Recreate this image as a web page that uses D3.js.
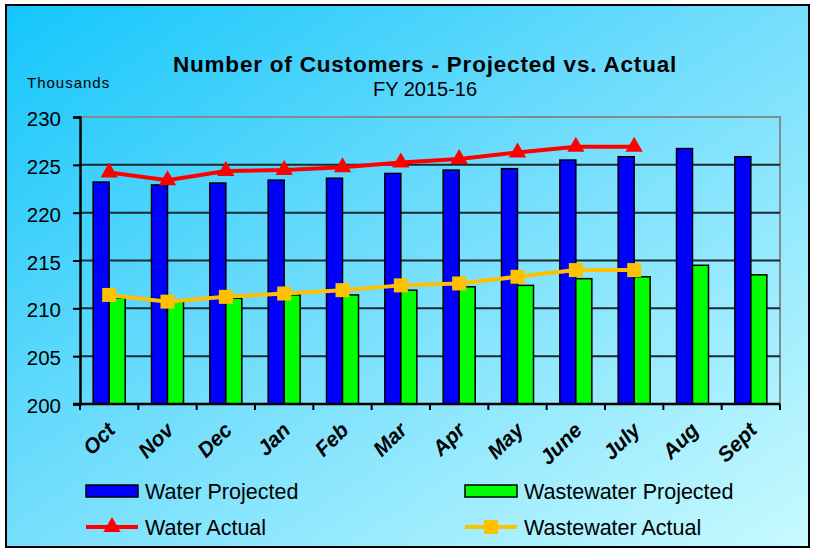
<!DOCTYPE html>
<html>
<head>
<meta charset="utf-8">
<script src="https://cdn.jsdelivr.net/npm/d3@7"></script>
<style>
  body { margin: 0; background: #fff; }
  svg text { font-family: "Liberation Sans", Arial, sans-serif; }
</style>
</head>
<body>
<div id="chart"></div>
<script>
// data
const months = ["Oct", "Nov", "Dec", "Jan", "Feb", "Mar", "Apr", "May", "June", "July", "Aug", "Sept"];
const waterProjected = [223.2, 222.9, 223.1, 223.4, 223.6, 224.1, 224.45, 224.6, 225.5, 225.85, 226.7, 225.85];
const wastewaterProjected = [211.1, 210.7, 211.05, 211.4, 211.4, 211.9, 212.25, 212.4, 213.1, 213.3, 214.5, 213.5];
const waterActual = [224.2, 223.4, 224.35, 224.45, 224.75, 225.25, 225.6, 226.3, 226.9, 226.9];
const wastewaterActual = [211.4, 210.7, 211.2, 211.55, 211.9, 212.4, 212.6, 213.3, 214.0, 214.0];
const yTicks = [200, 205, 210, 215, 220, 225, 230];

const width = 815, height = 551;
const margin = {top: 117, right: 35, bottom: 147, left: 80};

const svg = d3.select("#chart").append("svg")
    .attr("width", width)
    .attr("height", height);

// background gradient
let defs = svg.append("defs");
let grad = defs.append("linearGradient")
    .attr("id", "bg")
    .attr("x1", "0%").attr("y1", "0%")
    .attr("x2", "100%").attr("y2", "100%");
grad.append("stop").attr("offset", "0%").attr("stop-color", "#14c6fb");
grad.append("stop").attr("offset", "45%").attr("stop-color", "#6ddcfc");
grad.append("stop").attr("offset", "100%").attr("stop-color", "#c8faff");

svg.append("rect")
    .attr("x", 6).attr("y", 5)
    .attr("width", 803).attr("height", 542)
    .attr("fill", "url(#bg)")
    .attr("stroke", "#000")
    .attr("stroke-width", 2);

// scales
const x = d3.scaleBand()
    .domain(months)
    .range([margin.left, width - margin.right]);

const y = d3.scaleLinear()
    .domain([200, 230])
    .range([404, margin.top]);

const barW = 16;

// plot border (top and right are grey)
svg.append("path")
    .attr("d", "M" + margin.left + "," + y(230) + "H" + (width - margin.right) + "V" + y(200))
    .attr("fill", "none")
    .attr("stroke", "#7f8c90")
    .attr("stroke-width", 2);

// gridlines
svg.append("g")
    .selectAll("line")
    .data(yTicks.filter(d => d > 200 && d < 230))
    .enter()
    .append("line")
    .attr("x1", margin.left)
    .attr("x2", width - margin.right)
    .attr("y1", d => y(d))
    .attr("y2", d => y(d))
    .attr("stroke", "#1a2a2e")
    .attr("stroke-width", 2);

// bars
svg.append("g")
    .selectAll("rect")
    .data(waterProjected)
    .enter()
    .append("rect")
    .attr("x", (d, i) => x(months[i]) + x.bandwidth() / 2 - barW)
    .attr("y", d => y(d))
    .attr("width", barW)
    .attr("height", d => y(200) - y(d))
    .attr("fill", "#0000ff")
    .attr("stroke", "#000")
    .attr("stroke-width", 1.5);

svg.append("g")
    .selectAll("rect")
    .data(wastewaterProjected)
    .enter()
    .append("rect")
    .attr("x", (d, i) => x(months[i]) + x.bandwidth() / 2)
    .attr("y", d => y(d))
    .attr("width", barW)
    .attr("height", d => y(200) - y(d))
    .attr("fill", "#00ff00")
    .attr("stroke", "#000")
    .attr("stroke-width", 1.5);

// axes
let yAxis = d3.axisLeft(y)
    .tickValues(yTicks)
    .tickSize(7)
    .tickPadding(12);

svg.append("g")
    .attr("transform", "translate(" + margin.left + ",0)")
    .call(yAxis)
    .call(g => g.select(".domain").attr("stroke-width", 2.5))
    .call(g => g.selectAll(".tick line").attr("stroke-width", 2))
    .call(g => g.selectAll("text").attr("font-size", 20.5).attr("dy", "0.42em").attr("fill", "#000"));

// x axis: ticks at category boundaries
let xg = svg.append("g");
xg.append("line")
    .attr("x1", margin.left - 7).attr("x2", width - margin.right)
    .attr("y1", y(200)).attr("y2", y(200))
    .attr("stroke", "#000").attr("stroke-width", 2.5);
xg.selectAll("line.tk")
    .data(months.concat(["end"]))
    .enter()
    .append("line")
    .attr("class", "tk")
    .attr("x1", (d, i) => margin.left + i * x.step())
    .attr("x2", (d, i) => margin.left + i * x.step())
    .attr("y1", y(200))
    .attr("y2", y(200) + 6)
    .attr("stroke", "#000").attr("stroke-width", 2);

xg.selectAll("text")
    .data(months)
    .enter()
    .append("text")
    .attr("transform", d => "translate(" + (x(d) + x.bandwidth() / 2 - 3) + "," + 421 + ") rotate(-45)")
    .attr("text-anchor", "end")
    .attr("dy", "0.7em")
    .attr("font-size", 21)
    .attr("font-weight", "bold")
    .attr("font-style", "italic")
    .text(d => d);

// lines
const line = d3.line()
    .x((d, i) => x(months[i]) + x.bandwidth() / 2)
    .y(d => y(d));

svg.append("path")
    .datum(waterActual)
    .attr("d", line)
    .attr("fill", "none")
    .attr("stroke", "#ff0000")
    .attr("stroke-width", 4);

svg.append("path")
    .datum(wastewaterActual)
    .attr("d", line)
    .attr("fill", "none")
    .attr("stroke", "#ffc000")
    .attr("stroke-width", 4);

const tri = d3.symbol().type(d3.symbolTriangle).size(130);
const sq = d3.symbol().type(d3.symbolSquare).size(196);

svg.append("g")
    .selectAll("path")
    .data(waterActual)
    .enter()
    .append("path")
    .attr("d", tri)
    .attr("transform", (d, i) => "translate(" + (x(months[i]) + x.bandwidth() / 2) + "," + y(d) + ")")
    .attr("fill", "#ff0000");

svg.append("g")
    .selectAll("path")
    .data(wastewaterActual)
    .enter()
    .append("path")
    .attr("d", sq)
    .attr("transform", (d, i) => "translate(" + (x(months[i]) + x.bandwidth() / 2) + "," + y(d) + ")")
    .attr("fill", "#ffc000");

// titles
svg.append("text")
    .attr("x", 425).attr("y", 72)
    .attr("text-anchor", "middle")
    .attr("font-size", 22.5)
    .attr("letter-spacing", 0.8)
    .attr("font-weight", "bold")
    .text("Number of Customers - Projected vs. Actual");

svg.append("text")
    .attr("x", 425).attr("y", 96)
    .attr("text-anchor", "middle")
    .attr("font-size", 20)
    .text("FY 2015-16");

svg.append("text")
    .attr("x", 27).attr("y", 88)
    .attr("font-size", 15)
    .attr("letter-spacing", 1)
    .text("Thousands");

// legend
const legendItems = [
    {name: "Water Projected", type: "bar", color: "#0000ff", x: 86, y: 491},
    {name: "Wastewater Projected", type: "bar", color: "#00ff00", x: 465, y: 491},
    {name: "Water Actual", type: "tri", color: "#ff0000", x: 86, y: 527},
    {name: "Wastewater Actual", type: "sq", color: "#ffc000", x: 465, y: 527}
];

let leg = svg.append("g").selectAll("g")
    .data(legendItems)
    .enter()
    .append("g")
    .attr("transform", d => "translate(" + d.x + "," + d.y + ")");

leg.filter(d => d.type === "bar")
    .append("rect")
    .attr("x", 0).attr("y", -6)
    .attr("width", 52).attr("height", 12)
    .attr("fill", d => d.color)
    .attr("stroke", "#000")
    .attr("stroke-width", 1.5);

leg.filter(d => d.type !== "bar")
    .append("line")
    .attr("x1", 0).attr("x2", 52)
    .attr("stroke", d => d.color)
    .attr("stroke-width", 4);

leg.filter(d => d.type === "tri")
    .append("path")
    .attr("d", tri)
    .attr("transform", "translate(26,0)")
    .attr("fill", d => d.color);

leg.filter(d => d.type === "sq")
    .append("path")
    .attr("d", sq)
    .attr("transform", "translate(26,0)")
    .attr("fill", d => d.color);

leg.append("text")
    .attr("x", 59)
    .attr("dy", "0.36em")
    .attr("font-size", 21.5)
    .text(d => d.name);
</script>
</body>
</html>
